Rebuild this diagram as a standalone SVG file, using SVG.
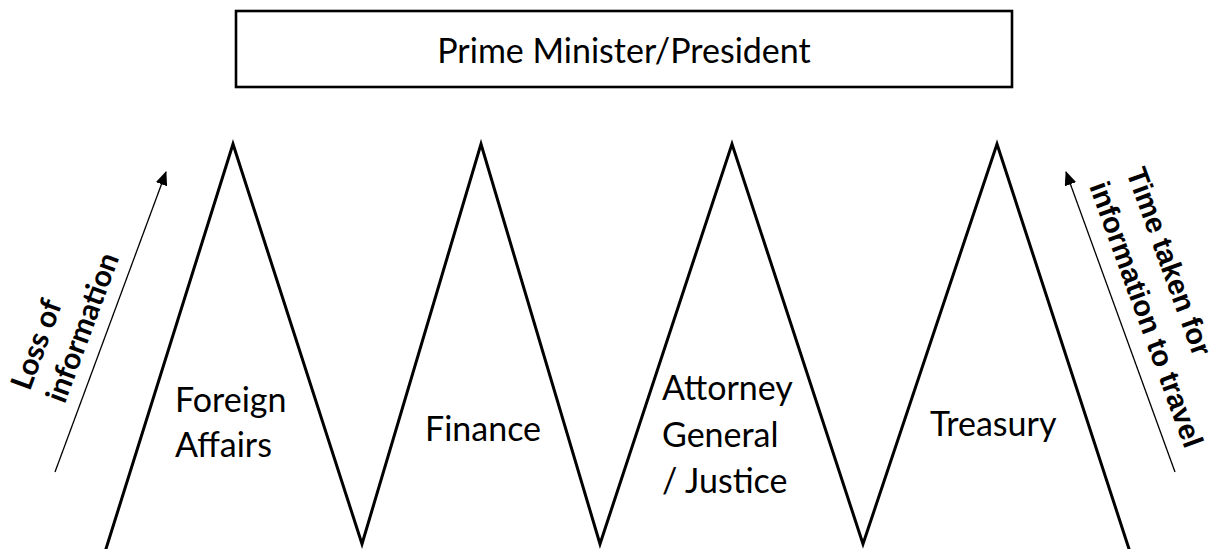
<svg xmlns="http://www.w3.org/2000/svg" width="1219" height="549" viewBox="0 0 1219 549">
<defs>
<style>
.lbl{font-family:Lato,"Open Sans",sans-serif;font-size:34px;fill:#000}
.side{font-family:Lato,"Open Sans",sans-serif;font-size:30px;font-weight:bold;fill:#000}
.sider{font-family:"Liberation Sans",Arial,sans-serif;font-size:29px;font-weight:bold;fill:#000}
.thin{stroke:#000;stroke-width:1.3;fill:none}
</style>
<marker id="ah" markerWidth="14" markerHeight="12" refX="13" refY="6" orient="auto" markerUnits="userSpaceOnUse">
<path d="M0,0 L14,6 L0,12 Z" fill="#000"/>
</marker>
</defs>
<rect width="1219" height="549" fill="#fff"/>
<g id="pm">
<rect x="236" y="11" width="776" height="76" fill="#fff" stroke="#000" stroke-width="2.6"/>
<text class="lbl" x="624" y="63" text-anchor="middle">Prime Minister/President</text>
</g>
<g id="zigzag">
<polyline points="105,552 233,144 362,544 481,144 600,544 732,144 863,544 997,144 1130,552" fill="none" stroke="#000" stroke-width="3"/>
</g>
<g id="foreign">
<text class="lbl" x="175" y="412">Foreign</text>
<text class="lbl" x="175" y="457">Affairs</text>
</g>
<g id="finance">
<text class="lbl" x="425" y="441">Finance</text>
</g>
<g id="attorney">
<text class="lbl" x="662" y="400">Attorney</text>
<text class="lbl" x="662" y="447">General</text>
<text class="lbl" x="662" y="493">/ Justice</text>
</g>
<g id="treasury">
<text class="lbl" x="930" y="436">Treasury</text>
</g>
<g id="connectors">
<line class="thin" x1="55" y1="472" x2="166" y2="172" marker-end="url(#ah)"/>
<line class="thin" x1="1175" y1="472" x2="1066" y2="172" marker-end="url(#ah)"/>
</g>
<g id="loss">
<text class="side" transform="translate(46,348) rotate(-69.6)" text-anchor="middle">Loss of</text>
<text class="side" transform="translate(92,331) rotate(-69.6)" text-anchor="middle">information</text>
</g>
<g id="time">
<text class="sider" transform="translate(1126,172) rotate(70)">Time taken for</text>
<text class="sider" transform="translate(1089,186) rotate(70)">information to travel</text>
</g>
</svg>
